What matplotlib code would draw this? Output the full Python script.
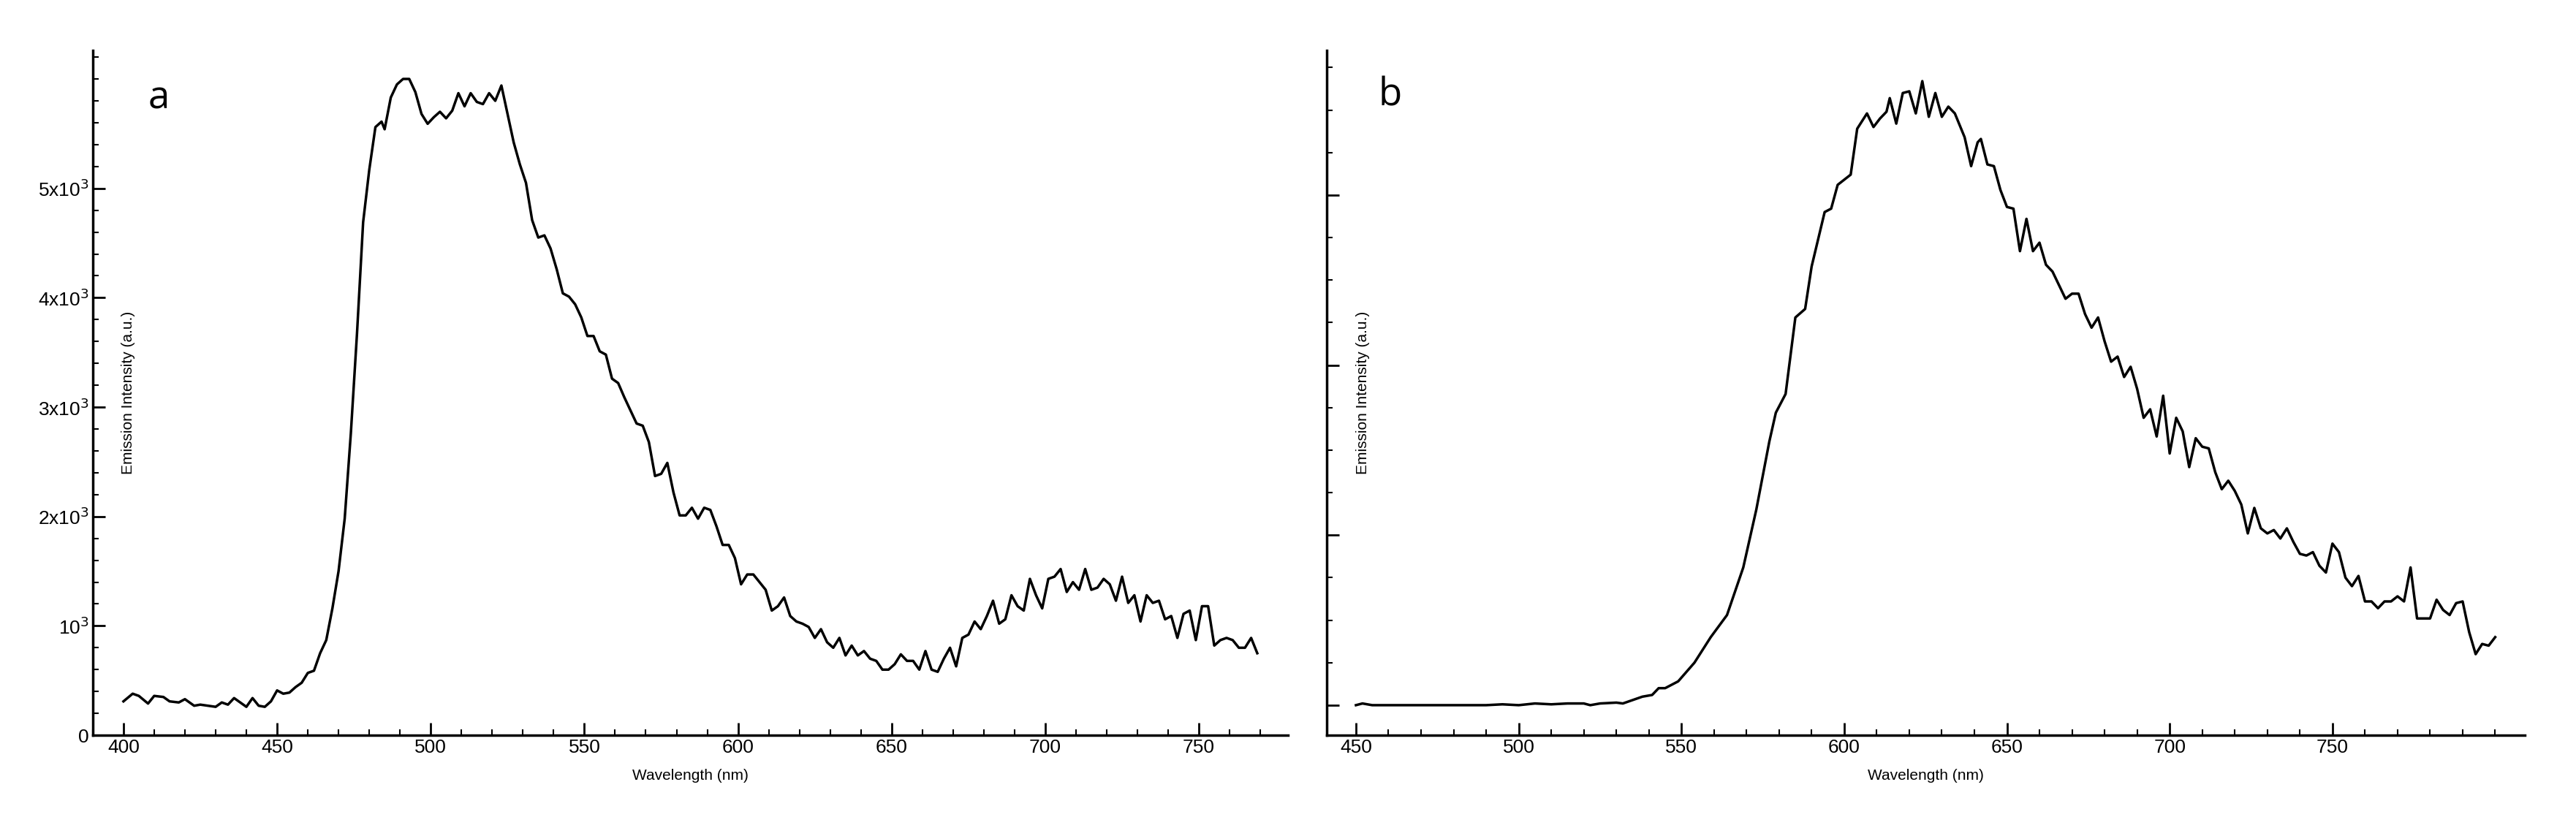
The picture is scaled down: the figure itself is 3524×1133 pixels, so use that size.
import numpy as np
import matplotlib.pyplot as plt
from matplotlib.ticker import MultipleLocator, FixedLocator

# panel a
wl_a = [400, 403, 405, 408, 410, 413, 415, 418, 420, 423, 425, 430, 432, 434, 436, 438, 440, 442, 444, 446,
        448, 450, 452, 454, 456, 458, 460, 462, 464, 466, 468, 470, 472, 474, 476, 478, 480, 482, 484, 485,
        487, 489, 491, 493, 495, 497, 499, 501, 503, 505, 507, 509, 511, 513, 515, 517, 519, 521, 523, 525,
        527, 529, 531, 533, 535, 537, 539, 541, 543, 545, 547, 549, 551, 553, 555, 557, 559, 561, 563, 565,
        567, 569, 571, 573, 575, 577, 579, 581, 583, 585, 587, 589, 591, 593, 595, 597, 599, 601, 603, 605,
        607, 609, 611, 613, 615, 617, 619, 621, 623, 625, 627, 629, 631, 633, 635, 637, 639, 641, 643, 645,
        647, 649, 651, 653, 655, 657, 659, 661, 663, 665, 667, 669, 671, 673, 675, 677, 679, 681, 683, 685,
        687, 689, 691, 693, 695, 697, 699, 701, 703, 705, 707, 709, 711, 713, 715, 717, 719, 721, 723, 725,
        727, 729, 731, 733, 735, 737, 739, 741, 743, 745, 747, 749, 751, 753, 755, 757, 759, 761, 763, 765,
        767, 769]
int_a = [0.31, 0.38, 0.36, 0.29, 0.36, 0.35, 0.31, 0.30, 0.33, 0.27, 0.28, 0.26, 0.30, 0.28, 0.34, 0.30, 0.26, 0.34, 0.27, 0.26,
         0.31, 0.41, 0.38, 0.39, 0.44, 0.48, 0.57, 0.59, 0.75, 0.87, 1.16, 1.50, 1.98, 2.76, 3.67, 4.69, 5.17, 5.56, 5.61, 5.54,
         5.83, 5.95, 6.00, 6.00, 5.88, 5.68, 5.59, 5.65, 5.70, 5.64, 5.71, 5.87, 5.75, 5.87, 5.79, 5.77, 5.87, 5.80, 5.94, 5.68,
         5.42, 5.22, 5.05, 4.71, 4.55, 4.57, 4.45, 4.26, 4.04, 4.01, 3.94, 3.82, 3.65, 3.65, 3.51, 3.48, 3.26, 3.22, 3.09, 2.97,
         2.85, 2.83, 2.68, 2.37, 2.39, 2.49, 2.22, 2.01, 2.01, 2.08, 1.98, 2.08, 2.06, 1.91, 1.74, 1.74, 1.62, 1.38, 1.47, 1.47,
         1.40, 1.33, 1.14, 1.18, 1.26, 1.09, 1.04, 1.02, 0.99, 0.89, 0.97, 0.85, 0.80, 0.89, 0.73, 0.82, 0.73, 0.77, 0.70, 0.68,
         0.60, 0.60, 0.65, 0.74, 0.68, 0.68, 0.60, 0.77, 0.60, 0.58, 0.70, 0.80, 0.63, 0.89, 0.92, 1.04, 0.97, 1.09, 1.23, 1.02,
         1.06, 1.28, 1.18, 1.14, 1.43, 1.28, 1.16, 1.43, 1.45, 1.52, 1.31, 1.40, 1.33, 1.52, 1.33, 1.35, 1.43, 1.38, 1.23, 1.45,
         1.21, 1.28, 1.04, 1.28, 1.21, 1.23, 1.06, 1.09, 0.89, 1.11, 1.14, 0.87, 1.18, 1.18, 0.82, 0.87, 0.89, 0.87, 0.80, 0.80,
         0.89, 0.75]
int_a = np.array(int_a) * 1000

# panel b
wl_b = [450, 452, 455, 460, 470, 480, 490, 495, 500, 505, 510, 515, 520, 522, 525, 530, 532, 535, 538, 541,
        543, 545, 547, 549, 554, 559, 564, 569, 573, 577, 579, 582, 585, 588, 590, 594, 596, 598, 602, 604,
        607, 609, 611, 613, 614, 616, 618, 620, 622, 624, 626, 628, 630, 632, 634, 637, 639, 641, 642, 644,
        646, 648, 650, 652, 654, 656, 658, 660, 662, 664, 666, 668, 670, 672, 674, 676, 678, 680, 682, 684,
        686, 688, 690, 692, 694, 696, 698, 700, 702, 704, 706, 708, 710, 712, 714, 716, 718, 720, 722, 724,
        726, 728, 730, 732, 734, 736, 738, 740, 742, 744, 746, 748, 750, 752, 754, 756, 758, 760, 762, 764,
        766, 768, 770, 772, 774, 776, 778, 780, 782, 784, 786, 788, 790, 792, 794, 796, 798, 800]
int_b = [0.0, 0.01, 0.0, 0.0, 0.0, 0.0, 0.0, 0.005, 0.0, 0.01, 0.005, 0.01, 0.01, 0.0, 0.01, 0.015, 0.01, 0.03, 0.05, 0.06,
         0.10, 0.10, 0.12, 0.14, 0.25, 0.40, 0.53, 0.81, 1.15, 1.55, 1.72, 1.83, 2.28, 2.33, 2.58, 2.90, 2.92, 3.06, 3.12, 3.39,
         3.48, 3.40, 3.45, 3.49, 3.57, 3.42, 3.60, 3.61, 3.48, 3.67, 3.46, 3.60, 3.46, 3.52, 3.48, 3.34, 3.17, 3.31, 3.33, 3.18,
         3.17, 3.03, 2.93, 2.92, 2.67, 2.86, 2.67, 2.72, 2.59, 2.55, 2.47, 2.39, 2.42, 2.42, 2.30, 2.22, 2.28, 2.14, 2.02, 2.05,
         1.93, 1.99, 1.86, 1.69, 1.74, 1.58, 1.82, 1.48, 1.69, 1.61, 1.40, 1.57, 1.52, 1.51, 1.37, 1.27, 1.32, 1.26, 1.18, 1.01,
         1.16, 1.04, 1.01, 1.03, 0.98, 1.04, 0.96, 0.89, 0.88, 0.90, 0.82, 0.78, 0.95, 0.90, 0.75, 0.70, 0.76, 0.61, 0.61, 0.57,
         0.61, 0.61, 0.64, 0.61, 0.81, 0.51, 0.51, 0.51, 0.62, 0.56, 0.53, 0.60, 0.61, 0.43, 0.30, 0.36, 0.35, 0.40]

a_yticks = [0, 1000, 2000, 3000, 4000, 5000]
a_ylabels = ['0', r'10$^3$', r'2x10$^3$', r'3x10$^3$', r'4x10$^3$', r'5x10$^3$']
a_xticks = [400, 450, 500, 550, 600, 650, 700, 750]
b_xticks = [450, 500, 550, 600, 650, 700, 750]
b_yticks = [0, 1, 2, 3]

plt.rcParams['font.family'] = ['Liberation Sans', 'DejaVu Sans']

fig = plt.figure(figsize=(35.24, 11.33), dpi=100)
ax1 = fig.add_axes([0.036, 0.112, 0.464, 0.827])
ax2 = fig.add_axes([0.515, 0.112, 0.465, 0.827])

for ax in (ax1, ax2):
    ax.spines['top'].set_visible(False)
    ax.spines['right'].set_visible(False)
    ax.spines['left'].set_linewidth(2.5)
    ax.spines['bottom'].set_linewidth(2.5)
    ax.tick_params(which='major', direction='in', length=12, width=2, labelsize=19)
    ax.tick_params(which='minor', direction='in', length=6, width=1.5)
    ax.set_xlabel('Wavelength (nm)', fontsize=15, labelpad=12)

ax1.plot(wl_a, int_a, color='black', lw=2.5)
ax1.set_xlim(390, 779)
ax1.set_ylim(0, 6260)
ax1.xaxis.set_major_locator(FixedLocator(a_xticks))
ax1.xaxis.set_minor_locator(MultipleLocator(10))
ax1.set_xticks(a_xticks)
ax1.set_yticks(a_yticks)
ax1.set_yticklabels(a_ylabels)
ax1.yaxis.set_minor_locator(MultipleLocator(200))
ax1.text(0.03, 0.5, 'Emission Intensity (a.u.)', transform=ax1.transAxes, rotation=90,
         fontsize=15, ha='center', va='center')
ax1.text(0.055, 0.93, 'a', transform=ax1.transAxes, fontsize=38, family=['Open Sans', 'DejaVu Sans'],
         ha='center', va='center')

ax2.plot(wl_b, int_b, color='black', lw=2.5)
ax2.set_xlim(441, 809)
ax2.set_ylim(-0.177, 3.85)
ax2.set_xticks(b_xticks)
ax2.xaxis.set_minor_locator(MultipleLocator(10))
ax2.set_yticks(b_yticks)
ax2.set_yticklabels([])
ax2.yaxis.set_minor_locator(MultipleLocator(0.25))
ax2.text(0.03, 0.5, 'Emission Intensity (a.u.)', transform=ax2.transAxes, rotation=90,
         fontsize=15, ha='center', va='center')
ax2.text(0.053, 0.934, 'b', transform=ax2.transAxes, fontsize=38, family=['Open Sans', 'DejaVu Sans'],
         ha='center', va='center')

fig.savefig('out.png', dpi=100)
